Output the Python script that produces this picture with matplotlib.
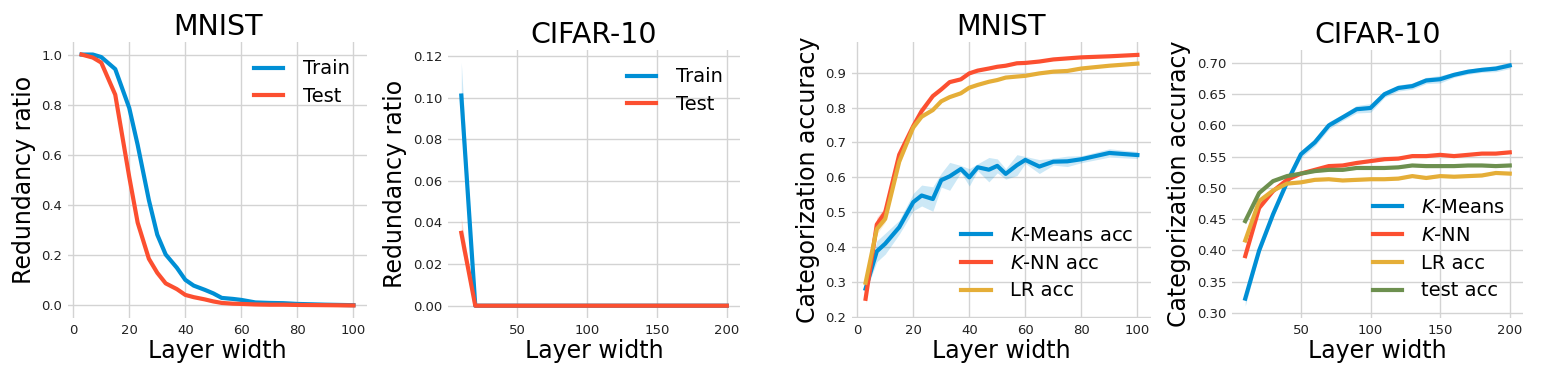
import matplotlib
matplotlib.use('Agg')
from matplotlib import pyplot as plt
import numpy as np

# layer widths
mnist_w = [3, 7, 10, 15, 20, 23, 27, 30, 33, 37, 40, 43, 47, 50, 53, 57, 60, 65, 70, 75, 80, 90, 100]
cifar_w = [10, 20, 30, 40, 50, 60, 70, 80, 90, 100, 110, 120, 130, 140, 150, 160, 170, 180, 190, 200]

# redundancy ratio, MNIST
mnist_train = [1.0, 1.0, 0.99, 0.942, 0.787, 0.64, 0.42, 0.282, 0.203, 0.15, 0.102, 0.079, 0.062,
               0.048, 0.03, 0.026, 0.022, 0.012, 0.01, 0.009, 0.006, 0.003, 0.001]
mnist_test = [1.0, 0.988, 0.968, 0.84, 0.512, 0.33, 0.186, 0.13, 0.088, 0.065, 0.042, 0.033, 0.024,
              0.016, 0.01, 0.007, 0.006, 0.004, 0.003, 0.003, 0.002, 0.001, 0.0]

# redundancy ratio, CIFAR-10
cifar_train = [0.101] + [0.0] * 19
cifar_train_sd = [0.016] + [0.0] * 19
cifar_test = [0.035] + [0.0] * 19
cifar_test_sd = [0.007] + [0.0] * 19

# categorization accuracy, MNIST
mn_kmeans = [0.281, 0.388, 0.41, 0.457, 0.529, 0.548, 0.538, 0.592, 0.603, 0.624, 0.60, 0.629, 0.622,
             0.633, 0.610, 0.635, 0.650, 0.631, 0.645, 0.646, 0.652, 0.670, 0.664]
mn_kmeans_sd = [0.01, 0.03, 0.03, 0.02, 0.025, 0.03, 0.035, 0.02, 0.04, 0.01, 0.025, 0.01, 0.035,
                0.02, 0.015, 0.03, 0.01, 0.02, 0.01, 0.015, 0.01, 0.012, 0.01]
mn_knn = [0.252, 0.465, 0.50, 0.665, 0.747, 0.79, 0.833, 0.852, 0.873, 0.881, 0.898, 0.906, 0.912,
          0.917, 0.92, 0.927, 0.928, 0.932, 0.938, 0.941, 0.944, 0.947, 0.951]
mn_knn_sd = [0.013, 0.02, 0.015, 0.01, 0.008, 0.01, 0.005, 0.004, 0.003, 0.003, 0.003, 0.002, 0.002,
             0.002, 0.002, 0.002, 0.002, 0.002, 0.002, 0.002, 0.002, 0.002, 0.002]
mn_lr = [0.298, 0.452, 0.481, 0.645, 0.743, 0.774, 0.793, 0.818, 0.83, 0.841, 0.857, 0.865, 0.874,
         0.879, 0.886, 0.889, 0.891, 0.898, 0.903, 0.905, 0.912, 0.92, 0.926]
mn_lr_sd = [0.01, 0.015, 0.01, 0.01, 0.008, 0.006, 0.004, 0.003, 0.003, 0.003, 0.002, 0.002, 0.002,
            0.002, 0.002, 0.002, 0.002, 0.002, 0.002, 0.002, 0.002, 0.002, 0.002]

# categorization accuracy, CIFAR-10
cf_kmeans = [0.323, 0.40, 0.458, 0.509, 0.554, 0.573, 0.60, 0.613, 0.626, 0.628, 0.650, 0.66, 0.663,
             0.672, 0.674, 0.681, 0.686, 0.689, 0.691, 0.696]
cf_kmeans_sd = [0.012, 0.006, 0.005, 0.005, 0.006, 0.006, 0.006, 0.005, 0.006, 0.007, 0.005, 0.005,
                0.005, 0.005, 0.006, 0.004, 0.004, 0.004, 0.005, 0.005]
cf_knn = [0.391, 0.468, 0.495, 0.513, 0.523, 0.529, 0.535, 0.536, 0.54, 0.543, 0.546, 0.547, 0.551,
          0.551, 0.553, 0.551, 0.553, 0.555, 0.555, 0.557]
cf_lr = [0.416, 0.479, 0.496, 0.507, 0.509, 0.513, 0.514, 0.512, 0.513, 0.514, 0.514, 0.515, 0.519,
         0.516, 0.519, 0.518, 0.519, 0.520, 0.524, 0.523]
cf_test = [0.447, 0.492, 0.511, 0.519, 0.523, 0.527, 0.529, 0.529, 0.532, 0.532, 0.532, 0.533, 0.536,
           0.535, 0.535, 0.535, 0.536, 0.536, 0.535, 0.536]
cf_small_sd = [0.005] + [0.002] * 19

BLUE = '#008fd5'
RED = '#fc4f30'
YELLOW = '#e5ae38'
GREEN = '#6d904f'

plt.rcParams['font.family'] = 'DejaVu Sans'
plt.rcParams['mathtext.fontset'] = 'dejavusans'


def style(ax, title, ylabel):
    for s in ax.spines.values():
        s.set_visible(False)
    ax.grid(True, color='#d3d3d3', linewidth=1.0)
    ax.set_axisbelow(True)
    ax.tick_params(length=0, labelsize=9.5, colors='#222222', pad=4)
    ax.set_title(title, fontsize=20.5, pad=5)
    ax.set_xlabel('Layer width', fontsize=17, labelpad=2)
    ax.set_ylabel(ylabel, fontsize=17, labelpad=4)


def line(ax, x, y, sd, color, label):
    y = np.array(y)
    sd = np.array(sd)
    ax.fill_between(x, y - sd, y + sd, color=color, alpha=0.2, linewidth=0)
    ax.plot(x, y, color=color, linewidth=3, label=label)


def legend(ax, loc):
    ax.legend(loc=loc, frameon=False, fontsize=14, handlelength=1.5, handletextpad=1.0,
              labelspacing=0.45)


fig = plt.figure(figsize=(15.46, 3.76), dpi=100)
ax1 = fig.add_axes([0.0440, 0.1543, 0.1934, 0.7340])
ax2 = fig.add_axes([0.2898, 0.1543, 0.1889, 0.7128])
ax3 = fig.add_axes([0.5511, 0.1543, 0.1934, 0.7340])
ax4 = fig.add_axes([0.7969, 0.1543, 0.1882, 0.7128])

line(ax1, mnist_w, mnist_train, [0.005] * len(mnist_w), BLUE, 'Train')
line(ax1, mnist_w, mnist_test, [0.005] * len(mnist_w), RED, 'Test')
ax1.set_xlim(-1.85, 104.85)
ax1.set_ylim(-0.05, 1.05)
style(ax1, 'MNIST', 'Redundancy ratio')
legend(ax1, 'upper right')

line(ax2, cifar_w, cifar_train, cifar_train_sd, BLUE, 'Train')
line(ax2, cifar_w, cifar_test, cifar_test_sd, RED, 'Test')
ax2.set_xlim(0.5, 209.5)
ax2.set_ylim(-0.0059, 0.1229)
style(ax2, 'CIFAR-10', 'Redundancy ratio')
legend(ax2, 'upper right')

line(ax3, mnist_w, mn_kmeans, mn_kmeans_sd, BLUE, '$K$-Means acc')
line(ax3, mnist_w, mn_knn, mn_knn_sd, RED, '$K$-NN acc')
line(ax3, mnist_w, mn_lr, mn_lr_sd, YELLOW, 'LR acc')
ax3.set_xlim(-1.85, 104.85)
ax3.set_ylim(0.197, 0.988)
style(ax3, 'MNIST', 'Categorization accuracy')
legend(ax3, 'lower right')

line(ax4, cifar_w, cf_kmeans, cf_kmeans_sd, BLUE, '$K$-Means')
line(ax4, cifar_w, cf_knn, cf_small_sd, RED, '$K$-NN')
line(ax4, cifar_w, cf_lr, cf_small_sd, YELLOW, 'LR acc')
line(ax4, cifar_w, cf_test, cf_small_sd, GREEN, 'test acc')
ax4.set_xlim(0.5, 209.5)
ax4.set_ylim(0.292, 0.7208)
style(ax4, 'CIFAR-10', 'Categorization accuracy')
legend(ax4, 'lower right')

fig.savefig('out.png', dpi=100)
